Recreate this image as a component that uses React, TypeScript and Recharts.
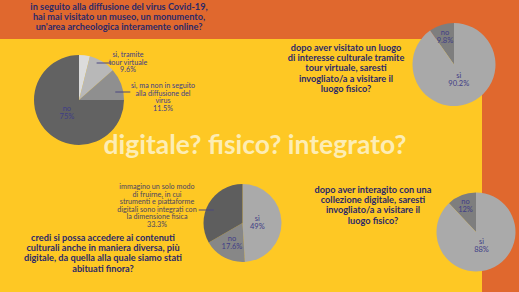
import { PieChart, Pie, Cell } from 'recharts';

// survey answers
const q1Names = ['altro', 'sì, tramite\ntour virtuale', 'sì, ma non in seguito\nalla diffusione del\nvirus', 'no'];
const q1Values = [3.9, 9.6, 11.5, 75];

const q2Names = ['no', 'sì'];
const q2Values = [9.8, 90.2];

const q3Names = ['sì', 'no', 'immagino un solo modo\ndi fruirne, in cui\nstrumenti e piattaforme\ndigitali sono integrati con\nla dimensione fisica'];
const q3Values = [49, 17.6, 33.3];

const q4Names = ['no', 'sì'];
const q4Values = [12, 88];

const q1Title = ['in seguito alla diffusione del virus Covid-19,', 'hai mai visitato un museo, un monumento,', "un'area archeologica interamente online?"];
const q2Title = ['dopo aver visitato un luogo', 'di interesse culturale tramite', 'tour virtuale, saresti', 'invogliato/a a visitare il', 'luogo fisico?'];
const q3Title = ['credi si possa accedere ai contenuti', 'culturali anche in maniera diversa, più', 'digitale, da quella alla quale siamo stati', 'abituati finora?'];
const q4Title = ['dopo aver interagito con una', 'collezione digitale, saresti', 'invogliato/a a visitare il', 'luogo fisico?'];
const headline = 'digitale? fisico? integrato?';

const ORANGE = '#E0682E';
const YELLOW = '#FEC824';
const NAVY = '#2B2869';
const LABEL = '#3F3D86';
const FONT = 'Lato, "Noto Sans", sans-serif';

const RADIAN = Math.PI / 180;

type Outside = { dx: number; dy: number; lineDy: number };
type PieCfg = {
    cx: number;
    cy: number;
    r: number;
    start: number;
    end: number;
    colors: string[];
    hidden?: number[];
    outside?: Record<number, Outside>;
    outsideColor?: string;
};

const toRows = (names: string[], values: number[]) => names.map((name, i) => ({ name, value: values[i] }));

function makeLabel(cfg: PieCfg) {
    return (props: any) => {
        const { cx, cy, midAngle, outerRadius, percent, index } = props;
        const name = props.payload?.name ?? props.name;
        const value = props.payload?.value ?? props.value;
        if (cfg.hidden?.includes(index)) return null;
        const lines = String(name).split('\n').concat(`${value}%`);
        const fs = 7.2;
        const out = cfg.outside?.[index];
        if (out) {
            const lh = 7.6;
            const side = out.dx > 0 ? 1 : -1;
            const ly = cy + out.lineDy;
            const half = Math.sqrt(Math.max(0, outerRadius * outerRadius - out.lineDy * out.lineDy));
            const edge = cx + side * half;
            const bx = cx + out.dx;
            const top = cy + out.dy - ((lines.length - 1) * lh) / 2;
            return (
                <g>
                    <line x1={edge - side * 8} y1={ly} x2={edge + side * 7} y2={ly} stroke="#4A4680" strokeWidth={1} />
                    <text textAnchor="middle" fontSize={fs} fontFamily={FONT} fill={cfg.outsideColor ?? LABEL}>
                        {lines.map((l, i) => (
                            <tspan key={i} x={bx} y={top + i * lh + fs * 0.35}>{l}</tspan>
                        ))}
                    </text>
                </g>
            );
        }
        // small slices push their label towards the rim
        const frac = percent < 0.15 ? 0.72 : percent < 0.3 ? 0.57 : 0.38;
        const rr = outerRadius * frac;
        const x = cx + rr * Math.cos(-midAngle * RADIAN);
        const y = cy + rr * Math.sin(-midAngle * RADIAN);
        const lh = 8;
        const top = y - ((lines.length - 1) * lh) / 2;
        return (
            <text textAnchor="middle" fontSize={fs + 0.3} fontFamily={FONT} fill={LABEL}>
                {lines.map((l, i) => (
                    <tspan key={i} x={x} y={top + i * lh + fs * 0.35}>{l}</tspan>
                ))}
            </text>
        );
    };
}

const pies: { rows: { name: string; value: number }[]; cfg: PieCfg }[] = [
    {
        rows: toRows(q1Names, q1Values),
        cfg: {
            cx: 74, cy: 95, r: 45, start: 90, end: -270,
            colors: ['#DCDCDC', '#B8B8B8', '#8F8F8F', '#626262'],
            hidden: [0],
            outside: { 1: { dx: 49, dy: -38, lineDy: -37 }, 2: { dx: 84, dy: -3, lineDy: -8 } },
        },
    },
    {
        rows: toRows(q2Names, q2Values),
        cfg: { cx: 449, cy: 59.5, r: 41.5, start: 90, end: 450, colors: ['#7E7E7E', '#A9A9A9'] },
    },
    {
        rows: toRows(q3Names, q3Values),
        cfg: {
            cx: 237.5, cy: 218, r: 39, start: 90, end: -270,
            colors: ['#AAAAAA', '#878787', '#5E5E5E'],
            outside: { 2: { dx: -85.5, dy: -17.5, lineDy: -13 } },
            outsideColor: '#4B4560',
        },
    },
    {
        rows: toRows(q4Names, q4Values),
        cfg: { cx: 471, cy: 227, r: 39.5, start: 90, end: 450, colors: ['#7E7E7E', '#AAAAAA'] },
    },
];

function Question({ lines, x, y, lh = 10.4 }: { lines: string[]; x: number; y: number; lh?: number }) {
    return (
        <div
            style={{
                position: 'absolute',
                left: x - 150,
                top: y,
                width: 300,
                textAlign: 'center',
                fontFamily: FONT,
                fontWeight: 700,
                fontSize: 9.2,
                lineHeight: `${lh}px`,
                color: NAVY,
                whiteSpace: 'nowrap',
            }}
        >
            {lines.map((l, i) => (
                <div key={i}>{l}</div>
            ))}
        </div>
    );
}

export default function App() {
    return (
        <div style={{ position: 'absolute', left: 0, top: 0, width: 519, height: 292, overflow: 'hidden', background: ORANGE }}>
            <div style={{ position: 'absolute', left: 0, top: 38.5, width: 482, height: 254, background: YELLOW }} />
            <Question lines={q1Title} x={119} y={1.5} lh={10} />
            <Question lines={q2Title} x={346} y={42.5} lh={10.4} />
            <Question lines={q3Title} x={103} y={232.5} lh={10.4} />
            <Question lines={q4Title} x={373} y={184.5} lh={10.4} />
            <div
                style={{
                    position: 'absolute',
                    left: 0,
                    top: 128,
                    width: 510,
                    textAlign: 'center',
                    fontFamily: FONT,
                    fontWeight: 700,
                    fontSize: 26.5,
                    lineHeight: '32px',
                    color: '#FDEDB4',
                }}
            >
                {headline}
            </div>
            <div style={{ position: 'absolute', left: 0, top: 0 }}>
                <PieChart width={519} height={292}>
                    {pies.map((p, i) => (
                        <Pie
                            key={i}
                            data={p.rows}
                            dataKey="value"
                            nameKey="name"
                            cx={p.cfg.cx}
                            cy={p.cfg.cy}
                            outerRadius={p.cfg.r}
                            startAngle={p.cfg.start}
                            endAngle={p.cfg.end}
                            stroke="none"
                            labelLine={false}
                            label={makeLabel(p.cfg)}
                            isAnimationActive={false}
                        >
                            {p.rows.map((_, j) => (
                                <Cell key={j} fill={p.cfg.colors[j]} stroke="none" />
                            ))}
                        </Pie>
                    ))}
                </PieChart>
            </div>
        </div>
    );
}
